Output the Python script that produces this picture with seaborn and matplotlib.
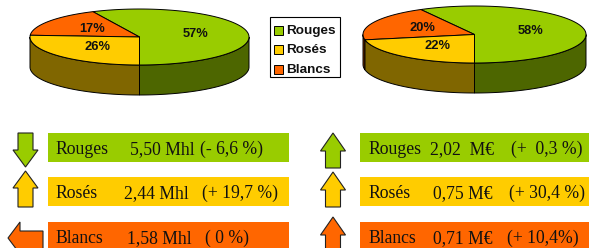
import numpy as np
import matplotlib
matplotlib.use("Agg")
import matplotlib.pyplot as plt
from matplotlib.patches import Polygon, Rectangle
import seaborn as sns

# ---------------- data ----------------
categories = ["Rouges", "Rosés", "Blancs"]
share_volume = [57, 26, 17]      # % (left pie)
share_value = [58, 22, 20]       # % (right pie)
volume_amount = ["5,50 Mhl", "2,44 Mhl", "1,58 Mhl"]
volume_pct = ["(- 6,6 %)", "(+ 19,7 %)", "( 0 %)"]
value_amount = ["2,02  M€", "0,75 M€", "0,71 M€"]
value_pct = ["(+  0,3 %)", "(+ 30,4 %)", "(+ 10,4%)"]
volume_change = [-6.6, 19.7, 0.0]
value_change = [0.3, 30.4, 10.4]

# ---------------- style ----------------
sns.set_theme(style="white")
plt.rcParams["font.family"] = ["Liberation Sans", "DejaVu Sans"]
top_colors = {"Rouges": "#99CC00", "Rosés": "#FFCC00", "Blancs": "#FF6600"}
side_colors = {"Rouges": "#4D6600", "Rosés": "#806600", "Blancs": "#803300"}
draw_order = ["Rouges", "Blancs", "Rosés"]   # counter-clockwise from bottom

W, H = 589, 248
fig = plt.figure(figsize=(W / 100, H / 100), dpi=100)
ax = fig.add_axes([0, 0, 1, 1])
ax.set_xlim(0, W)
ax.set_ylim(H, 0)
ax.axis("off")


def ell(cx, cy, rx, ry, t):
    t = np.radians(t)
    return cx + rx * np.cos(t), cy - ry * np.sin(t)


def pie3d(shares, cx, cy, rx, ry, depth):
    vals = dict(zip(categories, shares))
    total = sum(shares)
    a = -90.0
    ranges = []
    for c in draw_order:
        span = 360.0 * vals[c] / total
        ranges.append((c, a, a + span))
        a += span
    for c, a0, a1 in ranges:
        for f0, f1 in [(-180, 0), (180, 360)]:
            s0, s1 = max(a0, f0), min(a1, f1)
            if s1 > s0:
                t = np.linspace(s0, s1, 80)
                x, y = ell(cx, cy, rx, ry, t)
                pts = np.column_stack([np.r_[x, x[::-1]], np.r_[y, y[::-1] + depth]])
                ax.add_patch(Polygon(pts, closed=True, fc=side_colors[c],
                                     ec="black", lw=0.7, zorder=2))
    for c, a0, a1 in ranges:
        t = np.linspace(a0, a1, 120)
        x, y = ell(cx, cy, rx, ry, t)
        pts = np.column_stack([np.r_[cx, x], np.r_[cy, y]])
        ax.add_patch(Polygon(pts, closed=True, fc=top_colors[c],
                             ec="black", lw=0.7, zorder=3))
        m = (a0 + a1) / 2
        lx, ly = ell(cx, cy, rx * 0.52, ry * 0.52, m)
        ax.text(lx, ly, f"{vals[c]}%", ha="center", va="center",
                fontsize=9.3, fontweight="bold", color="#111111", zorder=4)


pie3d(share_volume, 139.5, 37, 109.5, 28, 30)
pie3d(share_value, 474.5, 34.5, 111.5, 28.5, 30)

# legend
ax.add_patch(Rectangle((270, 16.5), 69.5, 60.5, fc="white", ec="black", lw=0.8, zorder=3))
for i, c in enumerate(categories):
    y = 30.5 + i * 19.3
    ax.add_patch(Rectangle((274, y - 4.5), 9, 9, fc=top_colors[c], ec="black",
                           lw=0.7, zorder=4))
    ax.text(286.5, y + 0.5, c, ha="left", va="center", fontsize=9.7,
            fontweight="bold", color="#111111", zorder=4)

# bottom panels
row_top = [133, 177, 222]
bar_h = 29
serif = ["Liberation Serif", "DejaVu Serif"]
fs = 12.7
left_amount_x = [130, 124, 127]
left_pct_x = [200, 202, 205]
right_amount_x = [430, 433, 433]
right_pct_x = [511, 509, 507]


def arrow(cx, ytop, ybot, head_len, direction, color):
    hw, sw = 12.5, 7.5
    if direction == "up":
        pts = [(cx, ytop), (cx + hw, ytop + head_len), (cx + sw, ytop + head_len),
               (cx + sw, ybot), (cx - sw, ybot), (cx - sw, ytop + head_len),
               (cx - hw, ytop + head_len)]
    elif direction == "down":
        pts = [(cx, ybot), (cx + hw, ybot - head_len), (cx + sw, ybot - head_len),
               (cx + sw, ytop), (cx - sw, ytop), (cx - sw, ybot - head_len),
               (cx - hw, ybot - head_len)]
    else:  # sideways (stable)
        cy = ytop + 16
        pts = [(8, cy), (20, cy - 16), (20, cy - 7), (43, cy - 7), (43, cy + 30),
               (20, cy + 30), (20, cy + 16)]
    ax.add_patch(Polygon(pts, closed=True, fc=color, ec="#222222", lw=0.8, zorder=3))


def txt(x, y, s):
    ax.text(x, y, s, ha="left", va="baseline", fontsize=fs, family=serif,
            color="#111111", zorder=4)


for i, c in enumerate(categories):
    y0 = row_top[i]
    base = y0 + 21
    # left column (volume)
    ax.add_patch(Rectangle((48, y0), 241, bar_h, fc=top_colors[c], ec="none", zorder=2))
    txt(55, base, c)
    txt(left_amount_x[i], base, volume_amount[i])
    txt(left_pct_x[i], base, volume_pct[i])
    d = "down" if volume_change[i] < 0 else ("up" if volume_change[i] > 0 else "left")
    if d == "up":
        arrow(25.5, y0 - 6, y0 + 30, 17, d, top_colors[c])
    else:
        arrow(25.5, y0, y0 + 34, 17, d, top_colors[c])
    # right column (value)
    ax.add_patch(Rectangle((360, y0), 229, bar_h, fc=top_colors[c], ec="none", zorder=2))
    txt(368, base, c)
    txt(right_amount_x[i], base, value_amount[i])
    txt(right_pct_x[i], base, value_pct[i])
    d = "down" if value_change[i] < 0 else ("up" if value_change[i] > 0 else "left")
    ytip = y0 if i == 0 else y0 - 5
    arrow(333, ytip, ytip + 35, 18, d, top_colors[c])

fig.savefig("out.png", dpi=100)
